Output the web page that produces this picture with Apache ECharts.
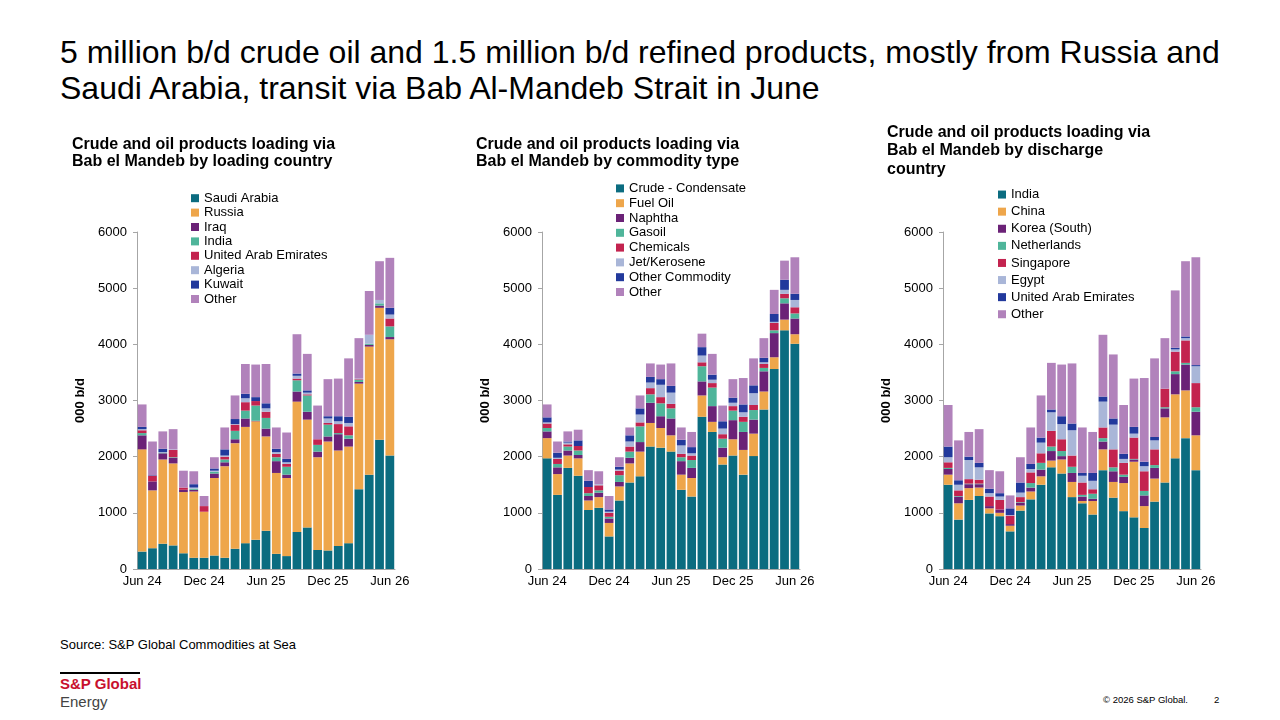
<!DOCTYPE html>
<html>
<head>
<meta charset="utf-8">
<title>Bab el Mandeb loadings</title>
<script src="https://cdn.jsdelivr.net/npm/echarts@6/dist/echarts.min.js"></script>
<style>
  body { margin: 0; background: #fff; font-family: Arial, "Liberation Sans", sans-serif; }
  #page { position: relative; width: 1280px; height: 720px; overflow: hidden; }
  .abs { position: absolute; }
  #headline { left: 60px; top: 34px; font-size: 32px; line-height: 36px; color: #000; white-space: nowrap; }
  #source { left: 60px; top: 637px; font-size: 13px; color: #000; }
  #bar { left: 60px; top: 672px; width: 80px; height: 2px; background: #000; }
  #brand { left: 60px; top: 675px; font-size: 15px; font-weight: bold; color: #c8102e; line-height: 18px; }
  #energy { left: 60px; top: 693px; font-size: 15px; color: #444; line-height: 18px; }
  #copy { left: 1103px; top: 694px; font-size: 9.5px; color: #000; }
  #pageno { left: 1214px; top: 694px; font-size: 9.5px; color: #000; }
  .chart { position: absolute; top: 110px; width: 380px; height: 480px; }
</style>
</head>
<body>
<div id="page">
  <div id="headline" class="abs">5 million b/d crude oil and 1.5 million b/d refined products, mostly from Russia and<br>Saudi Arabia, transit via Bab Al-Mandeb Strait in June</div>
  <div id="c1" class="chart" style="left:60px"></div>
  <div id="c2" class="chart" style="left:460px"></div>
  <div id="c3" class="chart" style="left:860px"></div>
  <div id="source" class="abs">Source: S&amp;P Global Commodities at Sea</div>
  <div id="bar" class="abs"></div>
  <div id="brand" class="abs">S&amp;P Global</div>
  <div id="energy" class="abs">Energy</div>
  <div id="copy" class="abs">&copy; 2026 S&amp;P Global.</div>
  <div id="pageno" class="abs">2</div>
</div>
<script>
// months Jun 24 .. Jun 26
var months = ['Jun 24','Jul 24','Aug 24','Sep 24','Oct 24','Nov 24','Dec 24','Jan 25','Feb 25','Mar 25','Apr 25','May 25',
  'Jun 25','Jul 25','Aug 25','Sep 25','Oct 25','Nov 25','Dec 25','Jan 26','Feb 26','Mar 26','Apr 26','May 26','Jun 26'];

// 000 b/d, by loading country
var saudiArabia = [310,370,450,420,280,200,200,240,200,360,460,520,680,270,230,660,740,340,330,410,460,1420,1680,2300,2020];
var russia      = [1820,1030,1500,1460,1090,1180,820,1380,1630,1880,2070,2110,1680,1440,1390,2320,1920,1650,1940,1700,1720,1880,2280,2350,2070];
var iraq        = [250,160,110,100,40,30,0,80,70,70,150,10,140,210,60,180,140,100,90,290,140,30,30,40,40];
var indiaLoad   = [40,0,10,10,0,20,0,30,50,150,140,270,190,70,140,200,290,120,210,20,60,40,20,40,190];
var uaeLoad     = [50,100,0,130,40,0,100,0,50,110,150,80,110,60,50,30,20,100,30,160,160,10,0,0,140];
var algeria     = [20,0,10,10,0,20,0,20,20,10,70,0,60,30,30,50,30,0,80,50,60,10,160,60,70];
var kuwait      = [40,10,60,0,0,60,0,40,110,90,80,70,90,60,60,40,40,0,40,90,110,0,0,0,120];
var otherLoad   = [400,600,310,360,300,230,180,200,390,420,530,580,700,380,470,700,650,600,660,670,1040,720,780,690,890];

// by commodity type
var crude       = [1970,1320,1800,1660,1050,1090,580,1220,1540,1650,2180,2160,2090,1410,1290,2710,2440,1860,2020,1680,2010,2840,3560,4250,4010];
var fuelOil     = [360,370,220,310,170,190,240,250,340,440,420,350,290,270,330,380,180,130,290,440,400,320,210,190,170];
var naphtha     = [120,120,90,60,80,80,80,80,100,170,360,210,300,240,180,250,280,170,340,320,250,360,430,290,280];
var gasoil      = [60,60,70,80,50,40,30,120,110,280,150,230,180,70,140,270,330,160,170,180,170,60,50,90,90];
var chemicals   = [80,90,40,80,110,90,70,80,90,70,110,110,80,60,80,70,80,80,80,90,90,70,130,80,110];
var jetKero     = [20,20,30,0,0,20,20,20,90,140,100,220,200,150,40,120,60,100,60,80,210,30,20,70,130];
var otherComm   = [90,90,20,100,110,0,40,50,110,110,100,100,120,100,110,150,90,130,90,140,140,80,140,180,110];
var otherType   = [230,200,180,190,190,230,240,170,140,230,240,260,400,220,270,240,370,280,330,470,480,350,430,340,650];

// by discharge country
var indiaDis    = [1500,880,1230,1300,990,940,670,1040,1240,1500,1810,1700,1280,1170,970,1760,1270,1030,920,730,1200,1540,1970,2330,1760];
var china       = [180,290,210,150,90,60,100,90,140,150,120,250,270,40,240,370,280,500,990,390,410,1160,1140,850,620];
var korea       = [100,120,70,60,40,60,30,50,70,120,170,60,160,80,40,140,190,110,40,190,190,160,360,460,420];
var netherlands = [20,10,10,10,0,0,0,10,80,120,80,90,110,30,90,60,70,40,10,80,50,20,50,30,80];
var singapore   = [100,100,80,70,170,170,150,90,190,170,280,210,200,220,80,190,320,210,380,350,280,330,350,400,430];
var egypt       = [90,100,340,220,60,60,10,80,60,190,330,270,450,120,150,460,440,70,70,90,160,0,40,40,300];
var uaeDis      = [190,80,60,80,80,60,120,180,90,90,50,140,120,50,140,90,110,90,120,80,60,0,30,30,20];
var otherDis    = [740,710,440,600,330,390,230,450,650,750,830,920,1070,810,730,1100,1140,870,860,1490,1400,900,1020,1340,1920];

var colors = ['#0b6c80', '#eea64b', '#6b2277', '#4fb59a', '#c3234f', '#a9b6d8', '#22399c', '#b182bb'];
var font = 'Arial, "Liberation Sans", sans-serif';

function makeChart(id, title, titleLeft, titleTop, titleLine, gridLeft, nameGap, legendLeft, legendTop, legendLine, names, values) {
  var chart = echarts.init(document.getElementById(id));
  var series = [];
  for (var i = 0; i < names.length; i++) {
    series.push({
      name: names[i],
      type: 'bar',
      stack: 'total',
      barCategoryGap: '15%',
      itemStyle: { color: colors[i] },
      data: values[i]
    });
  }
  var option = {
    animation: false,
    textStyle: { fontFamily: font },
    title: {
      text: title,
      left: titleLeft,
      top: titleTop,
      textStyle: { fontSize: 16, fontWeight: 'bold', color: '#000', lineHeight: titleLine, fontFamily: font }
    },
    legend: {
      orient: 'vertical',
      left: legendLeft,
      top: legendTop,
      itemWidth: 8,
      itemHeight: 8,
      itemGap: 0,
      icon: 'rect',
      selectedMode: false,
      textStyle: { fontSize: 13, color: '#000', lineHeight: legendLine, fontFamily: font },
      data: names
    },
    grid: { left: gridLeft, top: 122, width: 258, height: 337, containLabel: false },
    xAxis: {
      type: 'category',
      data: months,
      axisLine: { lineStyle: { color: '#a6a6a6' } },
      axisTick: { interval: 5, length: 4, lineStyle: { color: '#a6a6a6' } },
      axisLabel: { interval: 5, color: '#000', fontSize: 13, margin: 6 }
    },
    yAxis: {
      type: 'value',
      min: 0,
      max: 6000,
      interval: 1000,
      name: '000 b/d',
      nameLocation: 'middle',
      nameGap: nameGap,
      nameTextStyle: { fontSize: 13, fontWeight: 'bold', color: '#000' },
      splitLine: { show: false },
      axisLine: { show: true, lineStyle: { color: '#a6a6a6' } },
      axisTick: { show: true, length: 4, lineStyle: { color: '#a6a6a6' } },
      axisLabel: { color: '#000', fontSize: 13, margin: 10, formatter: function (v) { return String(v); } }
    },
    series: series
  };
  chart.setOption(option);
  return chart;
}

makeChart('c1', 'Crude and oil products loading via\nBab el Mandeb by loading country', 7, 21, 17, 77, 40, 126, 76, 14.4,
  ['Saudi Arabia', 'Russia', 'Iraq', 'India', 'United Arab Emirates', 'Algeria', 'Kuwait', 'Other'],
  [saudiArabia, russia, iraq, indiaLoad, uaeLoad, algeria, kuwait, otherLoad]);

makeChart('c2', 'Crude and oil products loading via\nBab el Mandeb by commodity type', 11, 21, 17, 82, 39, 151, 66, 14.8,
  ['Crude - Condensate', 'Fuel Oil', 'Naphtha', 'Gasoil', 'Chemicals', 'Jet/Kerosene', 'Other Commodity', 'Other'],
  [crude, fuelOil, naphtha, gasoil, chemicals, jetKero, otherComm, otherType]);

makeChart('c3', 'Crude and oil products loading via\nBab el Mandeb by discharge\ncountry', 22, 8, 18.5, 83, 38, 133, 71, 17.1,
  ['India', 'China', 'Korea (South)', 'Netherlands', 'Singapore', 'Egypt', 'United Arab Emirates', 'Other'],
  [indiaDis, china, korea, netherlands, singapore, egypt, uaeDis, otherDis]);
</script>
</body>
</html>
